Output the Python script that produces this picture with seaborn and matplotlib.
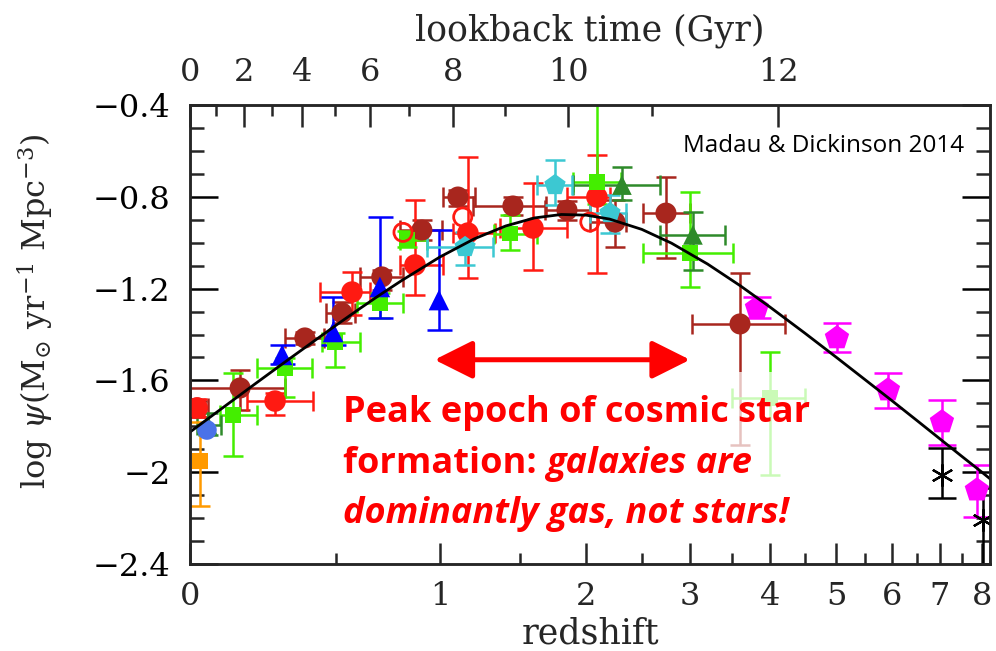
import numpy as np
import matplotlib
matplotlib.use("Agg")
import matplotlib.pyplot as plt
import seaborn as sns
from matplotlib.ticker import FixedLocator, FixedFormatter, MultipleLocator, NullFormatter
from matplotlib.patches import Rectangle

# ---------------- data ----------------
curve_z = [0.0, 0.1, 0.2, 0.3, 0.4, 0.5, 0.6, 0.7, 0.8, 1.0, 1.2, 1.4, 1.6, 1.8, 2.0,
           2.2, 2.5, 2.8, 3.2, 3.6, 4.0, 4.5, 5.0, 5.5, 6.0, 6.5, 7.0, 7.5, 8.0, 8.2]
curve_y = [-1.825, -1.714, -1.613, -1.521, -1.437, -1.359, -1.288, -1.223, -1.164, -1.062,
           -0.983, -0.927, -0.892, -0.877, -0.880, -0.897, -0.942, -1.002, -1.093, -1.188,
           -1.282, -1.394, -1.499, -1.597, -1.688, -1.774, -1.855, -1.931, -2.002, -2.030]

brown_z = [0.02, 0.149, 0.375, 0.524, 0.702, 0.902, 1.102, 1.448, 1.844, 2.249, 2.742, 3.595]
brown_y = [-1.72, -1.633, -1.415, -1.306, -1.149, -0.945, -0.801, -0.840, -0.858, -0.910, -0.871, -1.354]
brown_zlo = [0.0, 0.0, 0.30, 0.46, 0.602, 0.79, 1.017, 1.19, 1.676, 2.03, 2.512, 3.022]
brown_zhi = [0.05, 0.30, 0.45, 0.58, 0.805, 1.011, 1.204, 1.68, 2.03, 2.35, 3.0, 4.204]
brown_ylo = [-1.76, -1.729, -1.44, -1.35, -1.206, -0.99, -0.84, -0.88, -0.90, -1.019, -1.067, -1.88]
brown_yhi = [-1.69, -1.555, -1.39, -1.26, -1.119, -0.90, -0.77, -0.80, -0.82, -0.814, -0.714, -1.132]

red_z = [0.02, 0.266, 0.567, 0.866, 1.161, 1.588, 2.09]
red_y = [-1.72, -1.690, -1.215, -1.097, -0.958, -0.936, -0.801]
red_zlo = [0.0, 0.17, 0.434, 0.79, 1.074, 1.362, 1.844]
red_zhi = [0.04, 0.405, 0.647, 1.017, 1.329, 1.844, 2.204]
red_ylo = [-1.76, -1.751, -1.315, -1.228, -1.154, -1.119, -1.132]
red_yhi = [-1.68, -1.655, -1.128, -0.814, -0.627, -0.740, -0.618]

redopen_z = [0.805, 1.13, 2.03]
redopen_y = [-0.955, -0.888, -0.91]

lime_z = [0.127, 0.301, 0.495, 0.693, 0.825, 1.428, 2.09, 3.0, 3.993]
lime_y = [-1.751, -1.546, -1.433, -1.263, -0.988, -0.96, -0.735, -1.045, -1.677]
lime_zlo = [0.087, 0.204, 0.442, 0.589, 0.79, 1.32, 1.89, 2.512, 3.494]
lime_zhi = [0.204, 0.402, 0.602, 0.805, 0.93, 1.617, 2.3, 3.506, 4.501]
lime_ylo = [-1.929, -1.672, -1.542, -1.328, -1.02, -1.03, -0.83, -1.193, -2.012]
lime_yhi = [-1.568, -1.502, -1.393, -1.219, -0.95, -0.88, -0.2, -0.779, -1.476]

dkgreen_z = [0.05, 2.312, 3.033]
dkgreen_y = [-1.794, -0.749, -0.966]
dkgreen_zlo = [0.02, 1.892, 2.681]
dkgreen_zhi = [0.09, 2.681, 3.407]
dkgreen_ylo = [-1.84, -0.814, -1.119]
dkgreen_yhi = [-1.74, -0.670, -0.866]

blue_z = [0.291, 0.487, 0.693, 0.994]
blue_y = [-1.489, -1.389, -1.193, -1.25]
blue_ylo = [-1.53, -1.446, -1.328, -1.380]
blue_yhi = [-1.446, -1.237, -0.888, -0.945]

royal_z = [0.048]
royal_y = [-1.816]

cyan_z = [1.144, 1.751, 2.204]
cyan_y = [-1.019, -0.749, -0.871]
cyan_zlo = [0.929, 1.617, 2.03]
cyan_zhi = [1.316, 1.884, 2.35]
cyan_ylo = [-1.097, -0.836, -0.958]
cyan_yhi = [-0.953, -0.640, -0.79]

magenta_z = [3.816, 5.012, 5.925, 7.043, 7.862]
magenta_y = [-1.285, -1.415, -1.642, -1.781, -2.078]
magenta_ylo = [-1.328, -1.476, -1.720, -1.881, -2.195]
magenta_yhi = [-1.237, -1.350, -1.568, -1.685, -1.969]

black_z = [7.043, 8.01]
black_y = [-2.012, -2.208]
black_ylo = [-2.112, -2.6]
black_yhi = [-1.895, -2.069]

orange_z = [0.028]
orange_y = [-1.951]
orange_ylo = [-2.147]
orange_yhi = [-1.78]

arrow_z = [0.97, 3.0]
arrow_y = -1.51

z_ticks = [0, 1, 2, 3, 4, 5, 6, 7, 8]
z_ticklabels = ["0", "1", "2", "3", "4", "5", "6", "7", "8"]
z_minor = [0.5, 1.5, 2.5, 3.5, 4.5, 5.5, 6.5, 7.5]
lb_ticks = [0, 2, 4, 6, 8, 10, 12]
lb_ticklabels = ["0", "2", "4", "6", "8", "10", "12"]
lb_minor = [1, 3, 5, 7, 9, 11]
y_ticks = [-2.4, -2.0, -1.6, -1.2, -0.8, -0.4]
y_ticklabels = ["\u22122.4", "\u22122", "\u22121.6", "\u22121.2", "\u22120.8", "\u22120.4"]

# ---------------- style ----------------
sns.set_theme(style="ticks")
plt.rcParams["font.family"] = ["DejaVu Serif"]
plt.rcParams["mathtext.fontset"] = "dejavuserif"
plt.rcParams["axes.linewidth"] = 1.8

fig = plt.figure(figsize=(9.96, 6.51), dpi=100)
ax = fig.add_axes([190 / 996, 1 - 564 / 651, 800 / 996, 459 / 651])

fwd = lambda z: np.log10(1 + np.asarray(z, dtype=float))
inv = lambda u: 10 ** np.asarray(u, dtype=float) - 1
ax.set_xscale("function", functions=(fwd, inv))
ax.set_xlim(0, 8.19)
ax.set_ylim(-2.4, -0.4)


def err(v, lo, hi):
    v, lo, hi = np.asarray(v), np.asarray(lo), np.asarray(hi)
    return np.vstack([v - lo, hi - v])


ekw = dict(fmt="none", elinewidth=1.8, capthick=1.8, zorder=2)

# error bars
ax.errorbar(brown_z, brown_y, xerr=err(brown_z, brown_zlo, brown_zhi),
            yerr=err(brown_y, brown_ylo, brown_yhi), ecolor="#a8261e", capsize=7, **ekw)
ax.errorbar(red_z, red_y, xerr=err(red_z, red_zlo, red_zhi),
            yerr=err(red_y, red_ylo, red_yhi), ecolor="#ff1a12", capsize=7, **ekw)
ax.errorbar(lime_z, lime_y, xerr=err(lime_z, lime_zlo, lime_zhi),
            yerr=err(lime_y, lime_ylo, lime_yhi), ecolor="#44ee00", capsize=7, **ekw)
ax.errorbar(dkgreen_z, dkgreen_y, xerr=err(dkgreen_z, dkgreen_zlo, dkgreen_zhi),
            yerr=err(dkgreen_y, dkgreen_ylo, dkgreen_yhi), ecolor="#2e8a2a", capsize=7, **ekw)
ax.errorbar(blue_z, blue_y, yerr=err(blue_y, blue_ylo, blue_yhi),
            ecolor="#0000ff", capsize=9, **ekw)
ax.errorbar(cyan_z, cyan_y, xerr=err(cyan_z, cyan_zlo, cyan_zhi),
            yerr=err(cyan_y, cyan_ylo, cyan_yhi), ecolor="#3cc8d2", capsize=7, **ekw)
ax.errorbar(magenta_z, magenta_y, yerr=err(magenta_y, magenta_ylo, magenta_yhi),
            ecolor="#ff00ff", capsize=10, **ekw)
ax.errorbar(orange_z, orange_y, yerr=err(orange_y, orange_ylo, orange_yhi),
            ecolor="#ff9a00", capsize=7, **ekw)
ax.errorbar(black_z, black_y, yerr=err(black_y, black_ylo, black_yhi),
            ecolor="black", capsize=10, **ekw)
ax.plot(black_z, black_y, linestyle="none", marker=(6, 2, 0), color="black",
        ms=16, mew=1.6, zorder=3)

# markers
skw = dict(ax=ax, edgecolor="none", zorder=3, legend=False)
sns.scatterplot(x=brown_z, y=brown_y, color="#a8261e", marker="o", s=230, **skw)
sns.scatterplot(x=red_z, y=red_y, color="#ff1a12", marker="o", s=240, **skw)
sns.scatterplot(x=lime_z, y=lime_y, color="#44ee00", marker="s", s=130, **skw)
sns.scatterplot(x=dkgreen_z, y=dkgreen_y, color="#2e8a2a", marker="^", s=200, **skw)
sns.scatterplot(x=blue_z, y=blue_y, color="#0000ff", marker="^", s=220, **skw)
sns.scatterplot(x=royal_z, y=royal_y, color="#4a72e8", marker="o", s=200, **skw)
sns.scatterplot(x=cyan_z, y=cyan_y, color="#3cc8d2", marker="p", s=260, **skw)
sns.scatterplot(x=magenta_z, y=magenta_y, color="#ff00ff", marker="p", s=340, **skw)
sns.scatterplot(x=orange_z, y=orange_y, color="#ff9a00", marker="s", s=140, **skw)
ax.scatter(redopen_z, redopen_y, s=170, facecolors="none", edgecolors="#ff1a12",
           linewidths=2, zorder=3)

# model curve
sns.lineplot(x=curve_z, y=curve_y, color="black", lw=2.0, sort=False, ax=ax, zorder=4)

# translucent box behind the annotation
ax.add_patch(Rectangle((0.185, 0.052), 0.597, 0.366, transform=ax.transAxes,
                       facecolor="white", alpha=0.72, edgecolor="none", zorder=5))

# arrow
ax.annotate("", xy=(arrow_z[0], arrow_y), xytext=(arrow_z[1], arrow_y),
            arrowprops=dict(arrowstyle="<|-|>,head_length=1.3,head_width=0.65",
                            color="#ff0000", lw=3.6, mutation_scale=18,
                            shrinkA=0, shrinkB=0), zorder=6)

# annotation text
tkw = dict(transform=ax.transAxes, color="#ff0000", fontsize=26, fontweight="bold",
           family=["Open Sans", "DejaVu Sans"], va="baseline", ha="left", zorder=6)
ax.text(0.191, 0.309, "Peak epoch of cosmic star", **tkw)
t2 = ax.text(0.191, 0.198, "formation: ", **tkw)
ax.annotate("galaxies are", xy=(1, 0), xycoords=t2, va="bottom", ha="left",
            color="#ff0000", fontsize=26, fontweight="bold", fontstyle="italic",
            family=["Open Sans", "DejaVu Sans"], zorder=6)
ax.text(0.191, 0.089, "dominantly gas, not stars!", fontstyle="italic", **tkw)

ax.text(0.616, 0.898, "Madau & Dickinson 2014", transform=ax.transAxes,
        fontsize=17.5, family=["Open Sans", "DejaVu Sans"], color="black",
        va="baseline", ha="left", zorder=6)

# axes, ticks
ax.xaxis.set_major_locator(FixedLocator(z_ticks))
ax.xaxis.set_major_formatter(FixedFormatter(z_ticklabels))
ax.xaxis.set_minor_locator(FixedLocator(z_minor))
ax.xaxis.set_minor_formatter(NullFormatter())
ax.yaxis.set_major_locator(FixedLocator(y_ticks))
ax.yaxis.set_major_formatter(FixedFormatter(y_ticklabels))
ax.yaxis.set_minor_locator(MultipleLocator(0.1))

ax.tick_params(axis="y", which="major", direction="in", length=20, width=1.8,
               left=True, right=True, labelsize=23, pad=14, colors="black")
ax.tick_params(axis="y", which="minor", direction="in", length=10, width=1.8,
               left=True, right=True)
ax.tick_params(axis="x", which="major", direction="in", length=15, width=1.8,
               top=False, bottom=True, labelsize=23, pad=12)
ax.tick_params(axis="x", which="minor", direction="in", length=8, width=1.8,
               top=False, bottom=True)

ax.set_xlabel("redshift", fontsize=25)
ax.xaxis.set_label_coords(0.5, -0.115)
ax.set_ylabel(r"log $\psi$(M$_{\odot}$ yr$^{-1}$ Mpc$^{-3}$)", fontsize=23)
ax.yaxis.set_label_coords(-0.168, 0.55)

# top axis: lookback time (flat LCDM, H0=70, Om=0.3)
H0, Om, OL = 70.0, 0.3, 0.7
tH = 977.8 / H0
A = 2.0 / (3.0 * np.sqrt(OL)) * tH
t0 = A * np.arcsinh(np.sqrt(OL / Om))


def lookback_to_z(tl):
    age = t0 - np.asarray(tl, dtype=float)
    return (np.sinh(age / A) / np.sqrt(OL / Om)) ** (-2.0 / 3.0) - 1.0


ax2 = ax.twiny()
ax2.set_xscale("function", functions=(fwd, inv))
ax2.set_xlim(ax.get_xlim())
ax2.xaxis.set_major_locator(FixedLocator(lookback_to_z(lb_ticks)))
ax2.xaxis.set_major_formatter(FixedFormatter(lb_ticklabels))
ax2.xaxis.set_minor_locator(FixedLocator(lookback_to_z(lb_minor)))
ax2.xaxis.set_minor_formatter(NullFormatter())
ax2.tick_params(axis="x", which="major", direction="in", length=16, width=1.8,
                labelsize=23, pad=12)
ax2.tick_params(axis="x", which="minor", direction="in", length=8, width=1.8)
ax2.set_xlabel("lookback time (Gyr)", fontsize=25)
ax2.xaxis.set_label_coords(0.5, 1.14)
for sp in ax2.spines.values():
    sp.set_linewidth(1.8)

fig.savefig("out.png", dpi=100)
